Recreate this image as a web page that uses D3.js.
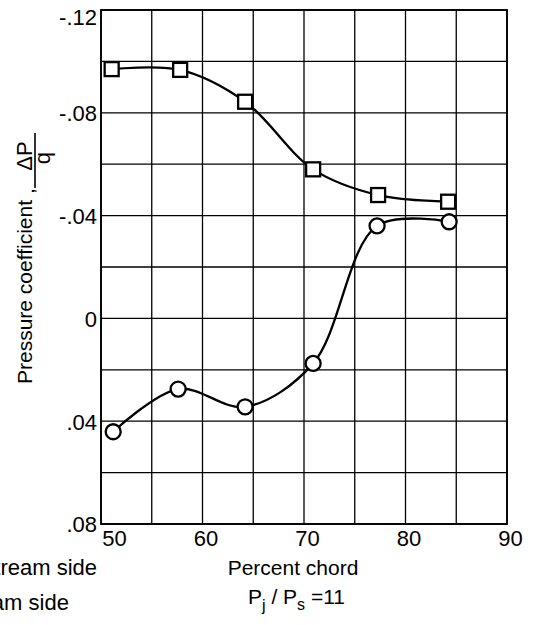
<!DOCTYPE html>
<html>
<head>
<meta charset="utf-8">
<script src="https://cdn.jsdelivr.net/npm/d3@7"></script>
<style>
  body { margin: 0; background: #fff; }
  svg { display: block; }
  text { font-family: "Liberation Sans", Arial, sans-serif; fill: #000; }
</style>
</head>
<body>
<svg width="536" height="625"></svg>
<script>
// values
const squareChord = [51.05, 57.8, 64.2, 70.9, 77.3, 84.2];
const squareCp = [-0.097, -0.0967, -0.0843, -0.058, -0.048, -0.0454];
const circleChord = [51.2, 57.6, 64.2, 70.9, 77.2, 84.3];
const circleCp = [0.0441, 0.0275, 0.0344, 0.0175, -0.036, -0.0376];

const xTicks = [50, 60, 70, 80, 90];
const yTicks = [-0.12, -0.08, -0.04, 0, 0.04, 0.08];
const xGrid = [50, 55, 60, 65, 70, 75, 80, 85, 90];
const yGrid = [-0.12, -0.10, -0.08, -0.06, -0.04, -0.02, 0, 0.02, 0.04, 0.06, 0.08];

const legendNames = ["Downstream side", "Upstream side"];
const legendSymbols = ["circle", "square"];

const svg = d3.select("svg");
const plot = { left: 101, right: 507, top: 10, bottom: 524 };

const xScale = d3.scaleLinear().domain([50, 90]).range([plot.left, plot.right]);
const yScale = d3.scaleLinear().domain([-0.12, 0.08]).range([plot.top, plot.bottom]);

function fmtCp(v) {
    if (v === 0) return "0";
    return (v < 0 ? "-" : "") + Math.abs(v).toFixed(2).slice(1);
}

function drawGrid() {
    let g = svg.append("g");
    g.selectAll("line.v").data(xGrid).enter().append("line")
        .attr("x1", d => xScale(d)).attr("x2", d => xScale(d))
        .attr("y1", plot.top).attr("y2", plot.bottom)
        .style("stroke", "#000").style("stroke-width", 1.3);
    g.selectAll("line.h").data(yGrid).enter().append("line")
        .attr("x1", plot.left).attr("x2", plot.right)
        .attr("y1", d => yScale(d)).attr("y2", d => yScale(d))
        .style("stroke", "#000").style("stroke-width", 1.3);
    g.append("rect")
        .attr("x", plot.left).attr("y", plot.top)
        .attr("width", plot.right - plot.left).attr("height", plot.bottom - plot.top)
        .style("fill", "none").style("stroke", "#000").style("stroke-width", 1.8);
}

function drawAxes() {
    // y tick labels
    let gy = svg.append("g")
        .attr("transform", "translate(" + (plot.left - 4) + ",0)")
        .call(d3.axisLeft(yScale).tickValues(yTicks).tickSize(0).tickPadding(0).tickFormat(fmtCp));
    gy.select(".domain").remove();
    gy.selectAll("text")
        .style("font-size", "22px")
        .style("font-family", "Liberation Sans, Arial, sans-serif")
        .attr("dy", (d, i) => i === 0 ? "0.68em" : "0.36em");

    // x tick labels
    let gx = svg.append("g")
        .attr("transform", "translate(0," + plot.bottom + ")")
        .call(d3.axisBottom(xScale).tickValues(xTicks).tickSize(0).tickPadding(6).tickFormat(d3.format("d")));
    gx.select(".domain").remove();
    gx.selectAll("text")
        .style("font-size", "22px")
        .style("font-family", "Liberation Sans, Arial, sans-serif")
        .attr("dx", (d, i) => i === 0 ? 13 : 3);

    // x title
    svg.append("text")
        .attr("x", xScale(70) - 11)
        .attr("y", 575)
        .attr("text-anchor", "middle")
        .style("font-size", "21px")
        .text("Percent chord");

    let ratio = svg.append("text")
        .attr("x", 248)
        .attr("y", 604)
        .style("font-size", "21px");
    ratio.append("tspan").text("P");
    ratio.append("tspan").attr("dy", 7).style("font-size", "16px").text("j");
    ratio.append("tspan").attr("dy", -7).text(" / P");
    ratio.append("tspan").attr("dy", 6).style("font-size", "16px").text("s");
    ratio.append("tspan").attr("dy", -6).text(" =11");

    // y title
    svg.append("text")
        .attr("transform", "translate(32,384)rotate(-90)")
        .style("font-size", "21px")
        .text("Pressure coefficient");
    svg.append("text")
        .attr("transform", "translate(34,194)rotate(-90)")
        .style("font-size", "21px")
        .text(",");
    svg.append("text")
        .attr("transform", "translate(32,156)rotate(-90)")
        .attr("text-anchor", "middle")
        .style("font-size", "22px")
        .text("\u0394P");
    svg.append("line")
        .attr("x1", 35).attr("x2", 35)
        .attr("y1", 133).attr("y2", 188)
        .style("stroke", "#000").style("stroke-width", 1.6);
    svg.append("text")
        .attr("transform", "translate(50,158)rotate(-90)")
        .attr("text-anchor", "middle")
        .style("font-size", "22px")
        .text("q");
}

function drawSeries(xs, ys, symbol) {
    let pts = xs.map((x, i) => [x, ys[i]]);
    let line = d3.line()
        .x(d => xScale(d[0]))
        .y(d => yScale(d[1]))
        .curve(d3.curveCatmullRom.alpha(0.5));
    svg.append("path")
        .datum(pts)
        .attr("d", line)
        .style("fill", "none")
        .style("stroke", "#000")
        .style("stroke-width", 2.3);
    drawMarkers(svg.append("g"), pts.map(d => [xScale(d[0]), yScale(d[1])]), symbol);
}

function drawMarkers(g, pos, symbol) {
    if (symbol === "square") {
        g.selectAll("rect").data(pos).enter().append("rect")
            .attr("x", d => d[0] - 7).attr("y", d => d[1] - 7)
            .attr("width", 14).attr("height", 14)
            .style("fill", "#fff").style("stroke", "#000").style("stroke-width", 2.3);
    } else {
        g.selectAll("circle").data(pos).enter().append("circle")
            .attr("cx", d => d[0]).attr("cy", d => d[1]).attr("r", 7.5)
            .style("fill", "#fff").style("stroke", "#000").style("stroke-width", 2.3);
    }
}

function drawLegend() {
    // legend sits mostly off the left edge, as in the cropped original
    let first = svg.append("text")
        .attr("x", 97).attr("y", 575)
        .attr("text-anchor", "end")
        .style("font-size", "22px")
        .text(legendNames[0]);
    let startX = 97 - first.node().getComputedTextLength();
    svg.append("text")
        .attr("x", startX).attr("y", 610)
        .style("font-size", "22px")
        .text(legendNames[1]);
    drawMarkers(svg.append("g"), [[startX - 20, 568]], legendSymbols[0]);
    drawMarkers(svg.append("g"), [[startX - 20, 603]], legendSymbols[1]);
}

drawGrid();
drawAxes();
drawSeries(squareChord, squareCp, "square");
drawSeries(circleChord, circleCp, "circle");
drawLegend();
</script>
</body>
</html>
